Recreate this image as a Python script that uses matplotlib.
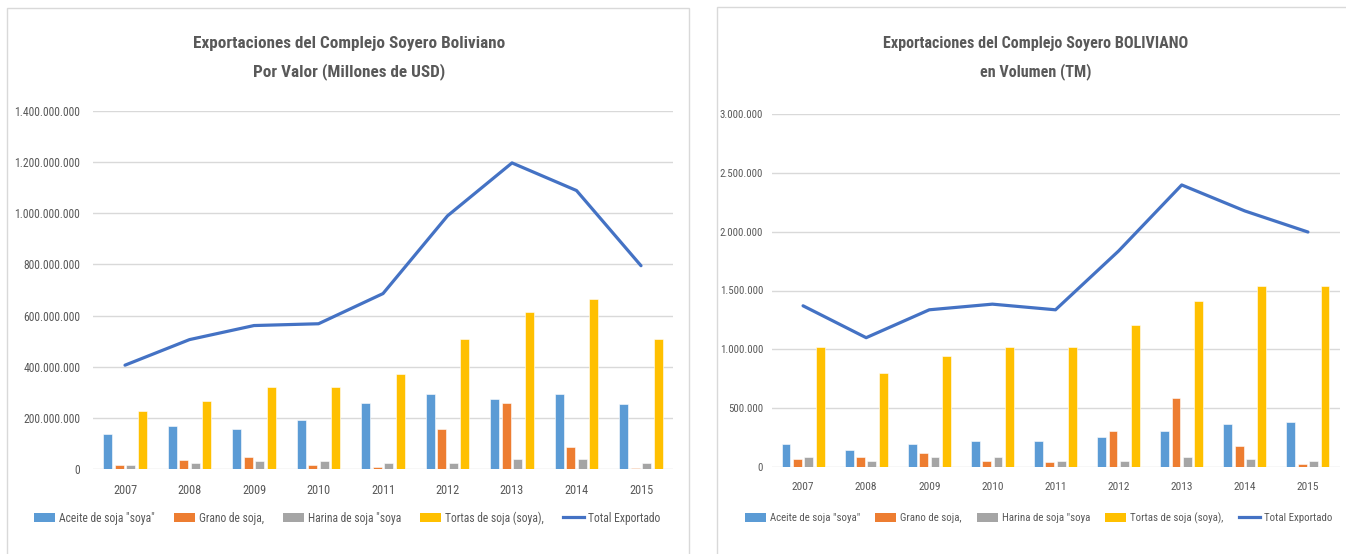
import matplotlib.pyplot as plt
import numpy as np
from matplotlib import font_manager
from matplotlib.ticker import FuncFormatter
from matplotlib.patches import Rectangle
from matplotlib.lines import Line2D

# look for a narrow face (the original uses Calibri), else fall back
installed = {f.name for f in font_manager.fontManager.ttflist}
narrow = [n for n in ['Liberation Sans Narrow', 'Roboto Condensed', 'Open Sans Condensed',
                      'Noto Sans Condensed', 'DejaVu Sans Condensed'] if n in installed]
if narrow:
    plt.rcParams['font.family'] = [narrow[0], 'DejaVu Sans']
    k = 1.0
else:
    plt.rcParams['font.family'] = ['Liberation Sans', 'DejaVu Sans']
    k = 0.86

years = ['2007', '2008', '2009', '2010', '2011', '2012', '2013', '2014', '2015']
series_names = ['Aceite de soja "soya"', 'Grano de soja,', 'Harina de soja "soya', 'Tortas de soja (soya),']
total_name = 'Total Exportado'

# valor (USD)
aceite_usd = [135e6, 169e6, 155e6, 190e6, 260e6, 295e6, 273e6, 295e6, 253e6]
grano_usd = [16e6, 37e6, 45e6, 16e6, 9e6, 155e6, 260e6, 85e6, 2e6]
harina_usd = [16e6, 24e6, 31e6, 31e6, 25e6, 25e6, 38e6, 38e6, 25e6]
tortas_usd = [225e6, 266e6, 322e6, 322e6, 371e6, 510e6, 615e6, 663e6, 510e6]
total_usd = [406e6, 506e6, 561e6, 568e6, 686e6, 990e6, 1197e6, 1089e6, 795e6]

# volumen (TM)
aceite_tm = [195e3, 147e3, 195e3, 223e3, 223e3, 257e3, 302e3, 367e3, 381e3]
grano_tm = [71e3, 85e3, 116e3, 54e3, 40e3, 302e3, 585e3, 178e3, 23e3]
harina_tm = [85e3, 54e3, 85e3, 85e3, 54e3, 54e3, 85e3, 68e3, 54e3]
tortas_tm = [1020e3, 800e3, 944e3, 1020e3, 1020e3, 1206e3, 1410e3, 1537e3, 1537e3]
total_tm = [1370e3, 1099e3, 1336e3, 1384e3, 1336e3, 1836e3, 2397e3, 2176e3, 1997e3]

colors = ['#5B9BD5', '#ED7D31', '#A5A5A5', '#FFC000']
line_color = '#4472C4'
text_color = '#595959'
grid_color = '#D9D9D9'

W, H = 1346, 554
fig = plt.figure(figsize=(W / 100, H / 100), dpi=100)


def fmt(v, pos):
    return '{:,.0f}'.format(v).replace(',', '.')


def draw_chart(rect, bars, total, ymax, ystep, ypad, fs):
    ax = fig.add_axes(rect)
    x = np.arange(len(years))
    for i, vals in enumerate(bars):
        ax.bar(x + (i - 1.5) * 0.18, vals, width=0.14, color=colors[i],
               edgecolor='white', linewidth=0.4, zorder=3)
    ax.plot(x, total, color=line_color, linewidth=2.3, zorder=4,
            solid_capstyle='round', solid_joinstyle='round')
    ax.set_xlim(-0.5, len(years) - 0.5)
    ax.set_ylim(0, ymax)
    ax.set_yticks(np.arange(0, ymax + 1, ystep))
    ax.yaxis.set_major_formatter(FuncFormatter(fmt))
    ax.set_xticks(x)
    ax.set_xticklabels(years)
    ax.grid(axis='y', color=grid_color, linewidth=1.0, zorder=0)
    for s in ax.spines.values():
        s.set_visible(False)
    ax.tick_params(axis='both', length=0, colors=text_color, labelsize=fs)
    ax.tick_params(axis='x', pad=11, labelsize=fs + 0.4)
    ax.tick_params(axis='y', pad=ypad)
    return ax


# panel frames
fig.patches.append(Rectangle((7 / W, -0.05), 682 / W, 1 - 8 / H + 0.05,
                             transform=fig.transFigure, fill=False,
                             edgecolor=grid_color, linewidth=1.0))
fig.patches.append(Rectangle((717 / W, -0.05), 660 / W, 1 - 7 / H + 0.05,
                             transform=fig.transFigure, fill=False,
                             edgecolor=grid_color, linewidth=1.0))

fs_l, fs_r = 8.4 * k, 7.8 * k

ax1 = draw_chart([92.75 / W, 1 - 469 / H, 580.5 / W, 358 / H],
                 [aceite_usd, grano_usd, harina_usd, tortas_usd], total_usd,
                 1400e6, 200e6, 9, fs_l)
ax2 = draw_chart([771.5 / W, 1 - 467 / H, 568 / W, 353 / H],
                 [aceite_tm, grano_tm, harina_tm, tortas_tm], total_tm,
                 3000e3, 500e3, 6, fs_r)

fig.text(349 / W, 1 - 58 / H,
         'Exportaciones del Complejo Soyero Boliviano\nPor Valor (Millones de USD)',
         ha='center', va='center', fontsize=12.3 * k, fontweight='bold',
         color=text_color, linespacing=1.85)
fig.text(1036 / W, 1 - 58 / H,
         'Exportaciones del Complejo Soyero BOLIVIANO\nen Volumen (TM)',
         ha='center', va='center', fontsize=11.6 * k, fontweight='bold',
         color=text_color, linespacing=1.95)

handles = [Rectangle((0, 0), 1, 1, facecolor=c, edgecolor='none') for c in colors]
handles.append(Line2D([0], [0], color=line_color, linewidth=2.3))
labels = series_names + [total_name]

for cx, cy, fs, gap in [(347 / W, 1 - 518 / H, fs_l, 19), (1038.5 / W, 1 - 518 / H, fs_r, 15)]:
    px = fs * 100 / 72
    fig.legend(handles, labels, loc='center', bbox_to_anchor=(cx, cy),
               ncol=5, frameon=False, fontsize=fs, labelcolor=text_color,
               handlelength=21 / px, handleheight=0.8, handletextpad=4 / px,
               columnspacing=gap / px)

fig.savefig('out.png', dpi=100, facecolor='white')
